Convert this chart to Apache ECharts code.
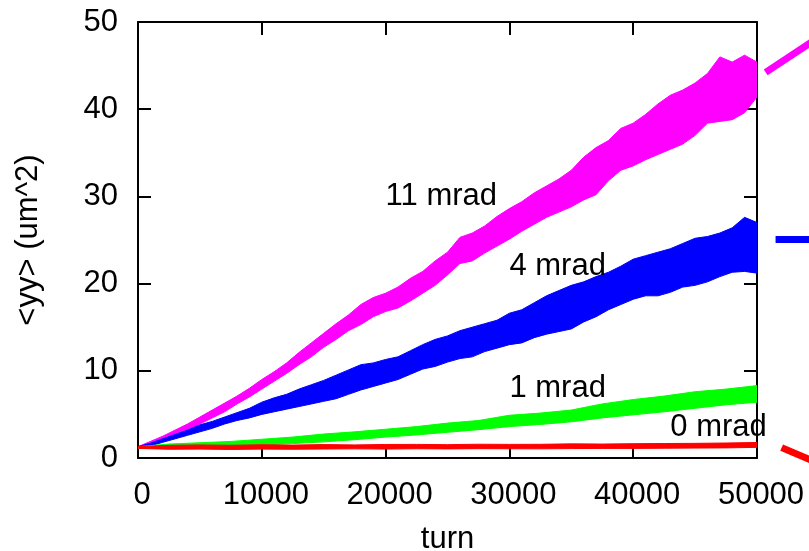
<!DOCTYPE html>
<html>
<head>
<meta charset="utf-8">
<script src="https://cdn.jsdelivr.net/npm/echarts@6/dist/echarts.min.js"></script>
<style>
  html, body { margin: 0; padding: 0; background: #fff; }
  #chart { width: 809px; height: 551px; }
</style>
</head>
<body>
<div id="chart"></div>
<script>
// Turn samples (every 1000 turns) for the wide bands
const turnsFine = [0,1000,2000,3000,4000,5000,6000,7000,8000,9000,10000,11000,12000,13000,14000,15000,16000,17000,18000,19000,20000,21000,22000,23000,24000,25000,26000,27000,28000,29000,30000,31000,32000,33000,34000,35000,36000,37000,38000,39000,40000,41000,42000,43000,44000,45000,46000,47000,48000,49000,50000];
// Turn samples (every 2500 turns) for the narrow bands
const turnsCoarse = [0,2500,5000,7500,10000,12500,15000,17500,20000,22500,25000,27500,30000,32500,35000,37500,40000,42500,45000,47500,50000];

// 11 mrad: lower / upper envelope of <yy>
const mrad11Lo = [1.1,1.6,2.0,2.6,3.2,3.9,4.6,5.3,6.2,7.0,7.9,8.8,9.7,10.7,11.6,12.7,13.6,14.6,15.3,16.2,16.8,17.2,18.0,18.9,19.8,21.0,22.3,22.6,23.5,24.3,25.1,26.0,26.8,27.6,28.2,28.8,29.6,30.2,31.8,33.0,33.5,34.2,34.8,35.4,36.0,37.0,38.4,38.6,38.8,39.6,41.4];
const mrad11Hi = [1.3,1.9,2.5,3.2,3.9,4.7,5.5,6.3,7.1,8.0,9.0,9.9,10.9,12.1,13.2,14.3,15.4,16.4,17.6,18.4,18.9,19.6,20.6,21.4,22.6,23.6,25.3,25.8,26.6,27.7,28.6,29.4,30.4,31.2,32.0,33.0,34.5,35.6,36.4,37.8,38.4,39.4,40.6,41.6,42.2,43.0,44.1,46.0,45.4,46.2,45.4];

// 4 mrad
const mrad4Lo = [1.1,1.4,1.8,2.2,2.6,3.0,3.4,3.9,4.3,4.6,5.0,5.3,5.6,5.9,6.2,6.5,6.8,7.3,7.8,8.2,8.6,9.0,9.6,10.2,10.5,11.0,11.4,11.6,12.2,12.6,13.0,13.2,13.8,14.2,14.5,14.8,15.6,16.2,17.0,17.6,18.2,18.6,18.6,19.0,19.6,19.8,20.2,20.8,21.3,21.4,21.2];
const mrad4Hi = [1.3,1.7,2.2,2.7,3.2,3.8,4.2,4.7,5.2,5.7,6.4,6.9,7.3,7.9,8.4,8.9,9.5,10.1,10.7,10.9,11.3,11.6,12.3,13.0,13.6,14.0,14.6,15.0,15.4,15.8,16.6,17.0,17.8,18.6,19.2,19.8,20.2,20.8,21.3,22.0,22.8,23.2,23.6,24.0,24.6,25.2,25.4,25.8,26.4,27.6,27.0];

// 1 mrad
const mrad1Lo = [1.1,1.15,1.25,1.35,1.5,1.65,1.85,2.1,2.4,2.65,2.95,3.25,3.6,3.85,4.15,4.6,4.95,5.3,5.7,6.1,6.4];
const mrad1Hi = [1.3,1.6,1.75,1.9,2.15,2.4,2.75,3.0,3.3,3.6,4.0,4.3,4.9,5.15,5.5,6.2,6.7,7.1,7.6,7.9,8.3];

// 0 mrad
const mrad0Lo = [1.1,1.0,1.02,0.98,1.02,1.0,1.03,1.05,1.02,1.06,1.04,1.07,1.06,1.05,1.08,1.1,1.1,1.12,1.14,1.16,1.22];
const mrad0Hi = [1.3,1.45,1.5,1.46,1.52,1.48,1.54,1.5,1.55,1.56,1.53,1.58,1.56,1.57,1.62,1.6,1.64,1.66,1.68,1.72,1.78];

// Thick stubs running off the right edge (turn, <yy>)
const stubMagenta = [[50700, 44.23], [56000, 49.2]];
const stubBlue = [[51500, 25.06], [56000, 25.06]];
const stubRed = [[51990, 1.19], [56000, -1.24]];

// Curve captions (turn, <yy>, text)
const captions = [
  [20000, 30, '11 mrad'],
  [30000, 22, '4 mrad'],
  [30000, 8, '1 mrad'],
  [43000, 3.5, '0 mrad']
];

const xTicks = [0, 10000, 20000, 30000, 40000, 50000];
const yTicks = [0, 10, 20, 30, 40, 50];

const FONT = 'Liberation Sans, Arial, Helvetica, sans-serif';
const FS = 31;
const BLACK = '#000';

function band(name, xs, lo, hi, color, z) {
  return {
    type: 'custom',
    name: name,
    xAxisIndex: 0,
    yAxisIndex: 0,
    data: [[0, 0]],
    z: z,
    silent: true,
    clip: true,
    renderItem: function (params, api) {
      const pts = [];
      for (let i = 0; i < xs.length; i++) pts.push(api.coord([xs[i], hi[i]]));
      for (let i = xs.length - 1; i >= 0; i--) pts.push(api.coord([xs[i], lo[i]]));
      return {
        type: 'polygon',
        shape: { points: pts },
        style: { fill: color, stroke: color, lineWidth: 1, lineJoin: 'miter' }
      };
    }
  };
}

function stub(data, color) {
  return {
    type: 'custom',
    xAxisIndex: 0,
    yAxisIndex: 0,
    data: [[data[0][0], data[0][1]]],
    z: 6,
    silent: true,
    clip: false,
    renderItem: function (params, api) {
      const a = api.coord(data[0]);
      const b = api.coord(data[1]);
      return {
        type: 'line',
        shape: { x1: a[0], y1: a[1], x2: b[0], y2: b[1] },
        style: { stroke: color, lineWidth: 7, lineCap: 'butt' }
      };
    }
  };
}

const axisCommon = {
  axisLine: { show: true, onZero: false, lineStyle: { color: BLACK, width: 2 } },
  axisTick: { show: true, inside: true, length: 13, lineStyle: { color: BLACK, width: 2 } },
  splitLine: { show: false }
};

const chart = echarts.init(document.getElementById('chart'), null, { renderer: 'canvas' });

chart.setOption({
  animation: false,
  backgroundColor: '#fff',
  textStyle: { fontFamily: FONT },
  grid: { left: 138, right: 52, top: 22, bottom: 93, containLabel: false, outerBoundsMode: 'none' },
  xAxis: [
    Object.assign({}, axisCommon, {
      type: 'value', position: 'bottom', min: xTicks[0], max: xTicks[xTicks.length - 1], interval: 10000,
      name: 'turn', nameLocation: 'middle', nameGap: 66,
      nameTextStyle: { fontSize: FS, color: BLACK, fontFamily: FONT },
      axisLabel: {
        fontSize: FS, color: BLACK, margin: 22, fontFamily: FONT, padding: [0, 0, 0, 8],
        formatter: function (v) { return String(v); }
      }
    }),
    Object.assign({}, axisCommon, {
      type: 'value', position: 'top', min: xTicks[0], max: xTicks[xTicks.length - 1], interval: 10000,
      axisLabel: { show: false }
    })
  ],
  yAxis: [
    Object.assign({}, axisCommon, {
      type: 'value', position: 'left', min: yTicks[0], max: yTicks[yTicks.length - 1], interval: 10,
      name: '<yy> (um^2)', nameLocation: 'middle', nameGap: 94,
      nameTextStyle: { fontSize: FS, color: BLACK, fontFamily: FONT },
      axisLabel: {
        fontSize: FS, color: BLACK, margin: 20, fontFamily: FONT,
        formatter: function (v) { return String(v); }
      }
    }),
    Object.assign({}, axisCommon, {
      type: 'value', position: 'right', min: yTicks[0], max: yTicks[yTicks.length - 1], interval: 10,
      axisLabel: { show: false }
    })
  ],
  series: [
    band('11 mrad', turnsFine, mrad11Lo, mrad11Hi, '#ff00ff', 2),
    band('4 mrad', turnsFine, mrad4Lo, mrad4Hi, '#0000ff', 3),
    band('1 mrad', turnsCoarse, mrad1Lo, mrad1Hi, '#00ff00', 4),
    band('0 mrad', turnsCoarse, mrad0Lo, mrad0Hi, '#ff0000', 5),
    stub(stubMagenta, '#ff00ff'),
    stub(stubBlue, '#0000ff'),
    stub(stubRed, '#ff0000'),
    {
      type: 'custom',
      xAxisIndex: 0,
      yAxisIndex: 0,
      data: captions,
      z: 10,
      silent: true,
      clip: false,
      renderItem: function (params, api) {
        const c = captions[params.dataIndex];
        const p = api.coord([c[0], c[1]]);
        return {
          type: 'text',
          x: p[0],
          y: p[1],
          style: {
            text: c[2],
            fill: BLACK,
            font: FS + 'px ' + FONT,
            align: 'left',
            verticalAlign: 'middle'
          }
        };
      }
    }
  ]
});
</script>
</body>
</html>
